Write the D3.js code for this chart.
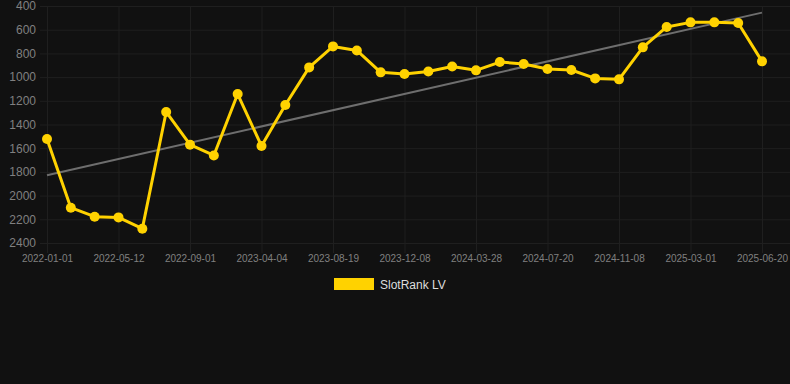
<!DOCTYPE html>
<html>
<head>
<meta charset="utf-8">
<script src="https://cdn.jsdelivr.net/npm/d3@7"></script>
<style>
	html, body { margin: 0; padding: 0; background: #111111; }
	svg { display: block; }
</style>
</head>
<body>
<svg class="chart" width="790" height="384"></svg>
<script>
/** DATA **/
let dates = ['2022-01-01', '2022-02-14', '2022-03-28', '2022-05-12', '2022-06-20', '2022-07-24',
	'2022-09-01', '2022-10-19', '2022-12-20', '2023-04-04', '2023-05-20', '2023-07-03',
	'2023-08-19', '2023-09-24', '2023-10-30', '2023-12-08', '2024-01-14', '2024-02-20',
	'2024-03-28', '2024-05-04', '2024-06-12', '2024-07-20', '2024-08-26', '2024-10-01',
	'2024-11-08', '2024-12-14', '2025-01-22', '2025-03-01', '2025-04-06', '2025-05-14',
	'2025-06-20'];
let ranks = [1522, 2102, 2178, 2184, 2279, 1294, 1570, 1661, 1143, 1581, 1235, 918,
	741, 775, 960, 974, 952, 910, 943, 873, 889, 932, 940, 1011, 1019, 749, 577, 538,
	538, 544, 867];
let yTicks = [400, 600, 800, 1000, 1200, 1400, 1600, 1800, 2000, 2200, 2400];
let seriesName = 'SlotRank LV';

/** CONSTANTS **/
let plot = { left: 40, right: 790, top: 6, bottom: 243 };
let colors = { line: '#ffd200', trend: '#6e6e6e', grid: '#1f1f1f', label: '#808080', legend: '#dddddd' };

let x = d3.scalePoint().domain(dates).range([47, 762]);
let y = d3.scaleLinear().domain([400, 2400]).range([plot.top, plot.bottom]);

let svg = d3.select('.chart');

// grid + axes
let xTickDates = dates.filter(function(d, i) { return i % 3 === 0; });

svg.append('g')
	.attr('class', 'y-axis')
	.attr('transform', 'translate(' + plot.left + ',0)')
	.call(d3.axisLeft(y).tickValues(yTicks).tickFormat(d3.format('d'))
		.tickSize(-(plot.right - plot.left)).tickPadding(4))
	.call(function(g) {
		g.select('.domain').remove();
		g.selectAll('line').attr('stroke', colors.grid);
		g.selectAll('text')
			.attr('fill', colors.label)
			.style('font', '12px Arial, "Liberation Sans", sans-serif');
	});

svg.append('g')
	.attr('class', 'x-axis')
	.attr('transform', 'translate(0,' + plot.bottom + ')')
	.call(d3.axisBottom(x).tickValues(xTickDates).tickSizeInner(-(plot.bottom - plot.top)).tickSizeOuter(0).tickPadding(12))
	.call(function(g) {
		g.select('.domain').remove();
		g.selectAll('line').attr('stroke', colors.grid).attr('y2', 10);
		g.selectAll('line').attr('y1', -(plot.bottom - plot.top));
		g.selectAll('text')
			.attr('fill', colors.label)
			.style('font', '10px Arial, "Liberation Sans", sans-serif');
	});

// trend line (least squares over the ranks)
let n = ranks.length;
let mx = d3.mean(ranks, function(d, i) { return i; });
let my = d3.mean(ranks);
let sxy = d3.sum(ranks, function(d, i) { return (i - mx) * (d - my); });
let sxx = d3.sum(ranks, function(d, i) { return (i - mx) * (i - mx); });
let slope = sxy / sxx;
let trend = [0, n - 1].map(function(i) { return { date: dates[i], value: my + slope * (i - mx) }; });

svg.append('path')
	.datum(trend)
	.attr('fill', 'none')
	.attr('stroke', colors.trend)
	.attr('stroke-width', 2)
	.attr('d', d3.line()
		.x(function(d) { return x(d.date); })
		.y(function(d) { return y(d.value); }));

// series line
svg.append('path')
	.datum(ranks)
	.attr('fill', 'none')
	.attr('stroke', colors.line)
	.attr('stroke-width', 3)
	.attr('stroke-linejoin', 'round')
	.attr('d', d3.line()
		.x(function(d, i) { return x(dates[i]); })
		.y(function(d) { return y(d); }));

svg.selectAll('.dot')
	.data(ranks)
	.enter()
	.append('circle')
	.attr('class', 'dot')
	.attr('cx', function(d, i) { return x(dates[i]); })
	.attr('cy', function(d) { return y(d); })
	.attr('r', 5)
	.attr('fill', colors.line);

// legend
let legend = svg.append('g').attr('transform', 'translate(334,278)');
legend.append('rect')
	.attr('width', 40)
	.attr('height', 12)
	.attr('fill', colors.line);
legend.append('text')
	.attr('x', 46)
	.attr('y', 10.5)
	.attr('fill', colors.legend)
	.style('font', '12px Arial, "Liberation Sans", sans-serif')
	.text(seriesName);
</script>
</body>
</html>
